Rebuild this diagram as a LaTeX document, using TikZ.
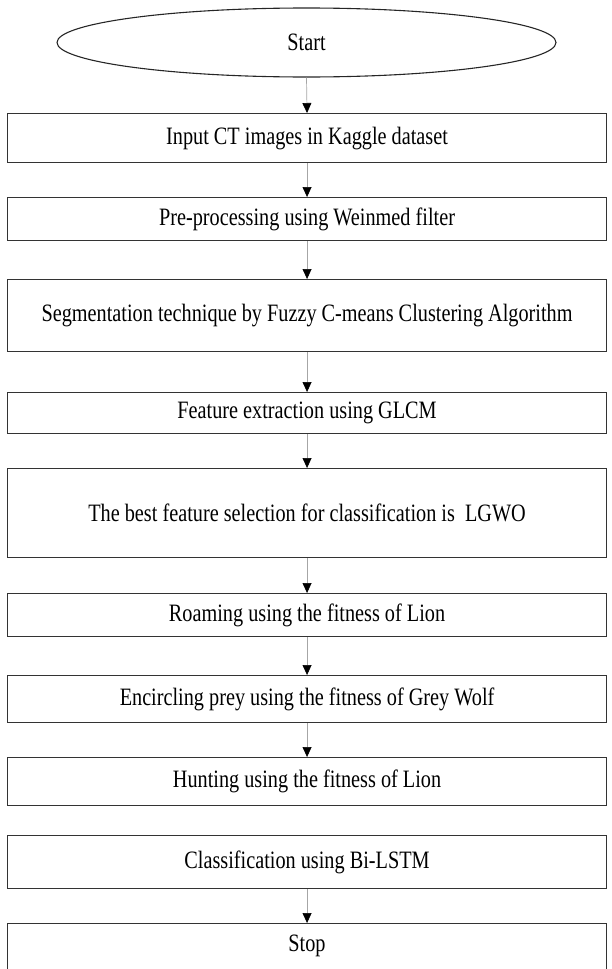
\documentclass[tikz,border=0pt]{standalone}
\usepackage{fontspec}
\setmainfont{Liberation Serif}[FakeStretch=0.81]
\usetikzlibrary{shapes.geometric,arrows.meta}
\begin{document}
\begin{tikzpicture}[x=1pt,y=-1pt,
  every node/.style={font=\fontsize{25}{28}\selectfont},
  stepbox/.style={draw=black!80,line width=1.1pt,minimum width=599pt,inner sep=0pt,anchor=north west},
  term/.style={ellipse,draw=black!85,line width=1.1pt,minimum width=499pt,minimum height=69pt,inner sep=0pt},
  arr/.style={draw=black!35,line width=0.7pt,-{Triangle[length=10pt,width=9pt,color=black]}}
]
\useasboundingbox (0,0) rectangle (612,969);
\node[term] (start) at (306.5,42.5) {Start};
\node[stepbox,minimum height=49pt] (b1) at (7,113) {Input CT images in Kaggle dataset};
\node[stepbox,minimum height=43pt] (b2) at (7,197) {Pre-processing using Weinmed filter};
\node[stepbox,minimum height=72pt] (b3) at (7,279) {Segmentation technique by Fuzzy C-means Clustering Algorithm};
\node[stepbox,minimum height=41pt] (b4) at (7,392) {Feature extraction using GLCM};
\node[stepbox,minimum height=89pt] (b5) at (7,468) {The best feature selection for classification is\ \ LGWO};
\node[stepbox,minimum height=43pt] (b6) at (7,593) {Roaming using the fitness of Lion};
\node[stepbox,minimum height=47pt] (b7) at (7,675) {Encircling prey using the fitness of Grey Wolf};
\node[stepbox,minimum height=48pt] (b8) at (7,757) {Hunting using the fitness of Lion};
\node[stepbox,minimum height=53pt] (b9) at (7,835) {Classification using Bi-LSTM};
\node[stepbox,minimum height=45.5pt] (b10) at (7,923) {Stop};
\draw[arr] (start.south) -- (b1.north);
\draw[arr] (b1.south) -- (b2.north);
\draw[arr] (b2.south) -- (b3.north);
\draw[arr] (b3.south) -- (b4.north);
\draw[arr] (b4.south) -- (b5.north);
\draw[arr] (b5.south) -- (b6.north);
\draw[arr] (b6.south) -- (b7.north);
\draw[arr] (b7.south) -- (b8.north);
\draw[arr] (b9.south) -- (b10.north);
\end{tikzpicture}
\end{document}
